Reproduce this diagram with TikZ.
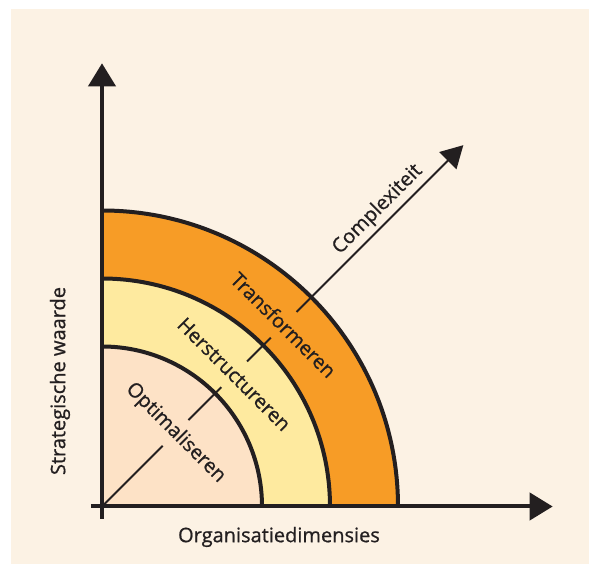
\documentclass[tikz,border=0pt]{standalone}
\usepackage{fontspec}
\setmainfont{Open Sans}[FakeBold=0.8]
\usetikzlibrary{arrows.meta,calc,positioning}
\definecolor{cream}{HTML}{FCF2E4}
\definecolor{peach}{HTML}{FDE2C6}
\definecolor{paleyellow}{HTML}{FEEA9F}
\definecolor{deeporange}{HTML}{F79C26}
\definecolor{ink}{HTML}{231F20}

\begin{document}
\begin{tikzpicture}[x=1pt,y=1pt,
  axis/.style={line width=4pt,draw=ink,-{Triangle[length=23pt,width=27pt]}},
  ring/.style={line width=4pt,draw=ink},
  diag/.style={line width=2pt,draw=ink},
  phase/.style={rotate=-45,font=\fontsize{20}{22}\selectfont,text=ink,minimum height=36pt,inner xsep=2pt,inner ysep=0pt},
  axislabel/.style={font=\fontsize{20}{22}\selectfont,text=ink}]
\useasboundingbox (-102,-57.5) rectangle (487,506.5);
\fill[cream] (-91,-57.5) rectangle (487,497);
\coordinate (O) at (0,0);
\fill[deeporange] (O) -- (296,0) arc (0:90:296) -- cycle;
\fill[paleyellow] (O) -- (228,0) arc (0:90:228) -- cycle;
\fill[peach] (O) -- (160,0) arc (0:90:160) -- cycle;
\draw[ring] (296,0) arc (0:90:296);
\draw[ring] (228,0) arc (0:90:228);
\draw[ring] (160,0) arc (0:90:160);
\coordinate (xs) at (-11,0);
\coordinate (xe) at (450.7,0);
\coordinate (ys) at (0,-12.5);
\coordinate (ye) at (0,443.2);
\draw[axis] (xs) -- (xe);
\draw[axis] (ys) -- (ye);
\node[axislabel] (xlab) at (177,-30.5) {Organisatiedimensies};
\node[axislabel,rotate=90] (ylab) at (-42,125.5) {Strategische waarde};
\node[phase] (opt) at (45:104) {Optimaliseren};
\node[phase] (her) at (45:187) {Herstructureren};
\node[phase] (tra) at (45:257) {Transformeren};
\coordinate (tip) at (45:511);
\draw[diag] (O) -- (opt);
\draw[diag] (opt) -- (her);
\draw[diag] (her) -- (tra);
\draw[diag,-{Triangle[length=22pt,width=24pt]}] (tra) -- node[axislabel,sloped,above,pos=0.55,inner sep=4pt] (cpx) {Complexiteit} (tip);
\end{tikzpicture}
\end{document}
